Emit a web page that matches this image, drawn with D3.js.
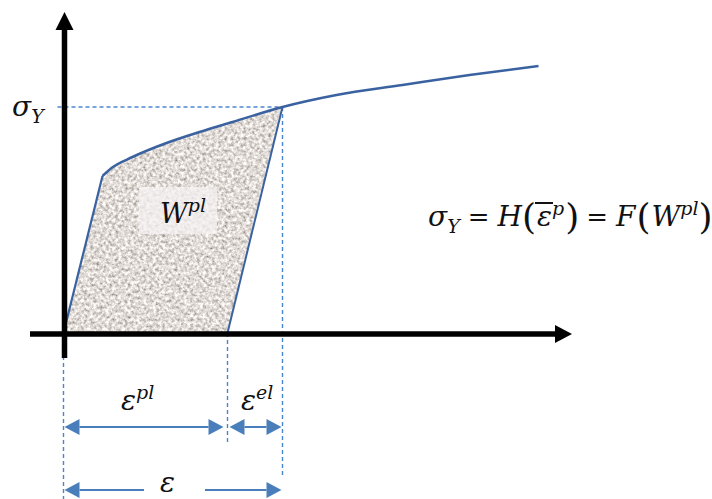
<!DOCTYPE html>
<html><head><meta charset="utf-8">
<script src="https://cdn.jsdelivr.net/npm/d3@7"></script>
<style>html,body{margin:0;padding:0;background:#fff;}svg{display:block;}</style>
</head><body>
<svg id="c" width="712" height="499"></svg>
<script>
// ---- data (abstract strain / stress units) ----
const elasticLine = [[0, 0], [0.39, 1.57]];             // elastic loading
const hardeningStrain = [0.39, 0.48, 0.69, 1.03, 1.36, 1.69, 2.19, 2.73, 3.39, 4.06, 4.75];
const hardeningStress = [1.57, 1.65, 1.76, 1.90, 2.01, 2.11, 2.26, 2.38, 2.48, 2.58, 2.67];
const yieldPointIndex = 6;          // point where unloading starts (σ_Y)
const plasticStrain = [1.64];       // strain after elastic unloading
const labels = { sigmaY: "σ", sigmaSub: "Y", eps: "ε", pl: "pl", el: "el", W: "W" };

const svg = d3.select("#c");
const x = d3.scaleLinear().domain([0, 5]).range([63.5, 563.5]);
const y = d3.scaleLinear().domain([0, 3]).range([333, 33]);

const hardening = hardeningStrain.map((s, i) => [s, hardeningStress[i]]);
const yieldPt = hardening[yieldPointIndex];
const epsP = plasticStrain[0];

const defs = svg.append("defs");
const f = defs.append("filter").attr("id", "granite").attr("x", 0).attr("y", 0).attr("width", 1).attr("height", 1);
f.append("feTurbulence").attr("type", "fractalNoise").attr("baseFrequency", 0.32).attr("numOctaves", 3).attr("seed", 7).attr("result", "n");
f.append("feColorMatrix").attr("in", "n").attr("type", "matrix")
  .attr("values", "1.2 0 0 0 0.15  1.2 0 0 0 0.11  1.2 0 0 0 0.08  0 0 0 0 1").attr("result", "c");
f.append("feComposite").attr("in", "c").attr("in2", "SourceAlpha").attr("operator", "in");

const line = d3.line().x(d => x(d[0])).y(d => y(d[1]));
const curveLine = d3.line().x(d => x(d[0])).y(d => y(d[1])).curve(d3.curveMonotoneX);

// filled area W^pl
const fillPath = "M" + x(0) + "," + y(0) + "L" + x(elasticLine[1][0]) + "," + y(elasticLine[1][1]) +
  curveLine(hardening.slice(0, yieldPointIndex + 1)).replace(/^M[^CL]*/, "") +
  "L" + x(epsP) + "," + y(0) + "Z";
svg.append("path").attr("d", fillPath).attr("fill", "#bcb5b1").attr("filter", "url(#granite)");

// dashed guides
const dashC = "#4a86cf";
function dashed(x1, y1, x2, y2) {
  svg.append("line").attr("x1", x1).attr("x2", x2).attr("y1", y1).attr("y2", y2)
    .attr("stroke", dashC).attr("stroke-width", 1.4).attr("stroke-dasharray", "4,3");
}
dashed(x(-0.06), y(yieldPt[1]), x(yieldPt[0]), y(yieldPt[1]));
dashed(x(yieldPt[0]), y(yieldPt[1]), x(yieldPt[0]), 475);
dashed(x(epsP), y(0), x(epsP), 445);
dashed(x(0), 356, x(0), 499);

// stress-strain curve
const curveC = "#3a62a0";
svg.append("path").attr("d", line(elasticLine)).attr("fill", "none").attr("stroke", curveC).attr("stroke-width", 2.2);
svg.append("path").attr("d", curveLine(hardening)).attr("fill", "none").attr("stroke", curveC).attr("stroke-width", 2.5);
svg.append("path").attr("d", line([yieldPt, [epsP, 0]])).attr("fill", "none").attr("stroke", curveC).attr("stroke-width", 2);
svg.append("path").attr("d", line([[0, 0], [epsP, 0]])).attr("fill", "none").attr("stroke", curveC).attr("stroke-width", 2);

// axes (arrows)
svg.append("line").attr("x1", 30).attr("x2", 556).attr("y1", y(0) + 1).attr("y2", y(0) + 1).attr("stroke", "#000").attr("stroke-width", 5.5);
svg.append("path").attr("d", `M555,325L572,334L555,343Z`).attr("fill", "#000");
svg.append("line").attr("x1", x(0) + 1).attr("x2", x(0) + 1).attr("y1", 358).attr("y2", 28).attr("stroke", "#000").attr("stroke-width", 5.5);
svg.append("path").attr("d", `M55.5,30L64.5,12L73.5,30Z`).attr("fill", "#000");

// dimension arrows
const arrC = "#4a7ebb";
function dimArrow(x1, x2, yy, gap) {
  const g = svg.append("g");
  const hl = 15, hh = 8;
  if (gap) {
    g.append("line").attr("x1", x1 + hl).attr("x2", gap[0]).attr("y1", yy).attr("y2", yy).attr("stroke", arrC).attr("stroke-width", 2);
    g.append("line").attr("x1", gap[1]).attr("x2", x2 - hl).attr("y1", yy).attr("y2", yy).attr("stroke", arrC).attr("stroke-width", 2);
  } else {
    g.append("line").attr("x1", x1 + hl).attr("x2", x2 - hl).attr("y1", yy).attr("y2", yy).attr("stroke", arrC).attr("stroke-width", 2);
  }
  g.append("path").attr("d", `M${x1},${yy}L${x1 + hl},${yy - hh}L${x1 + hl},${yy + hh}Z`).attr("fill", arrC);
  g.append("path").attr("d", `M${x2},${yy}L${x2 - hl},${yy - hh}L${x2 - hl},${yy + hh}Z`).attr("fill", arrC);
}
dimArrow(x(0) + 1, x(epsP) - 4, 427);
dimArrow(x(epsP) + 2, x(yieldPt[0]) - 1, 427);
dimArrow(x(0) + 1, x(yieldPt[0]) - 1, 490, [144, 205]);

// rich text helper
const FONT = "'DejaVu Serif','Liberation Serif',serif";
function rich(x0, y0, parts) {
  let cx = x0;
  const out = [];
  parts.forEach(p => {
    const t = svg.append("text").attr("x", cx + (p.dx || 0)).attr("y", y0 + (p.dy || 0))
      .attr("font-family", FONT).attr("font-size", p.size).attr("font-style", p.italic === false ? "normal" : "italic")
      .attr("fill", "#111").text(p.t);
    const w = t.node().getComputedTextLength();
    out.push({ x: cx + (p.dx || 0), w, node: t });
    cx += w + (p.dx || 0) + (p.after || 0);
  });
  return out;
}

// labels
rich(12, 116, [{ t: labels.sigmaY, size: 28 }, { t: labels.sigmaSub, size: 19, dy: 7 }]);

svg.append("rect").attr("x", 139).attr("y", 187).attr("width", 78).attr("height", 47).attr("fill", "#f4f2f1").attr("opacity", 0.75);
rich(160, 223, [{ t: labels.W, size: 27 }, { t: labels.pl, size: 19, dy: -11 }]);

rich(121, 410, [{ t: labels.eps, size: 28 }, { t: labels.pl, size: 19, dy: -11 }]);
rich(241, 410, [{ t: labels.eps, size: 28 }, { t: labels.el, size: 19, dy: -11 }]);
rich(160, 492, [{ t: labels.eps, size: 28 }]);

// equation
const eq = rich(428, 226, [
  { t: "σ", size: 28 },
  { t: "Y", size: 19, dy: 7, after: 8 },
  { t: "=", size: 26, italic: false, after: 8 },
  { t: "H", size: 28, after: 0 },
  { t: "(", size: 36, italic: false, dy: 3, after: 1 },
  { t: "ε", size: 28 },
  { t: "p", size: 19, dy: -11, after: 1 },
  { t: ")", size: 36, italic: false, dy: 3, after: 7 },
  { t: "=", size: 26, italic: false, after: 8 },
  { t: "F", size: 28, after: 1 },
  { t: "(", size: 36, italic: false, dy: 3, after: 1 },
  { t: "W", size: 28, after: 0 },
  { t: "pl", size: 19, dy: -11, after: 0 },
  { t: ")", size: 36, italic: false, dy: 3 }
]);
const epsPart = eq[5];
svg.append("line").attr("x1", epsPart.x - 2).attr("x2", epsPart.x + epsPart.w + 1).attr("y1", 203).attr("y2", 203)
  .attr("stroke", "#111").attr("stroke-width", 2);
</script>
</body></html>
